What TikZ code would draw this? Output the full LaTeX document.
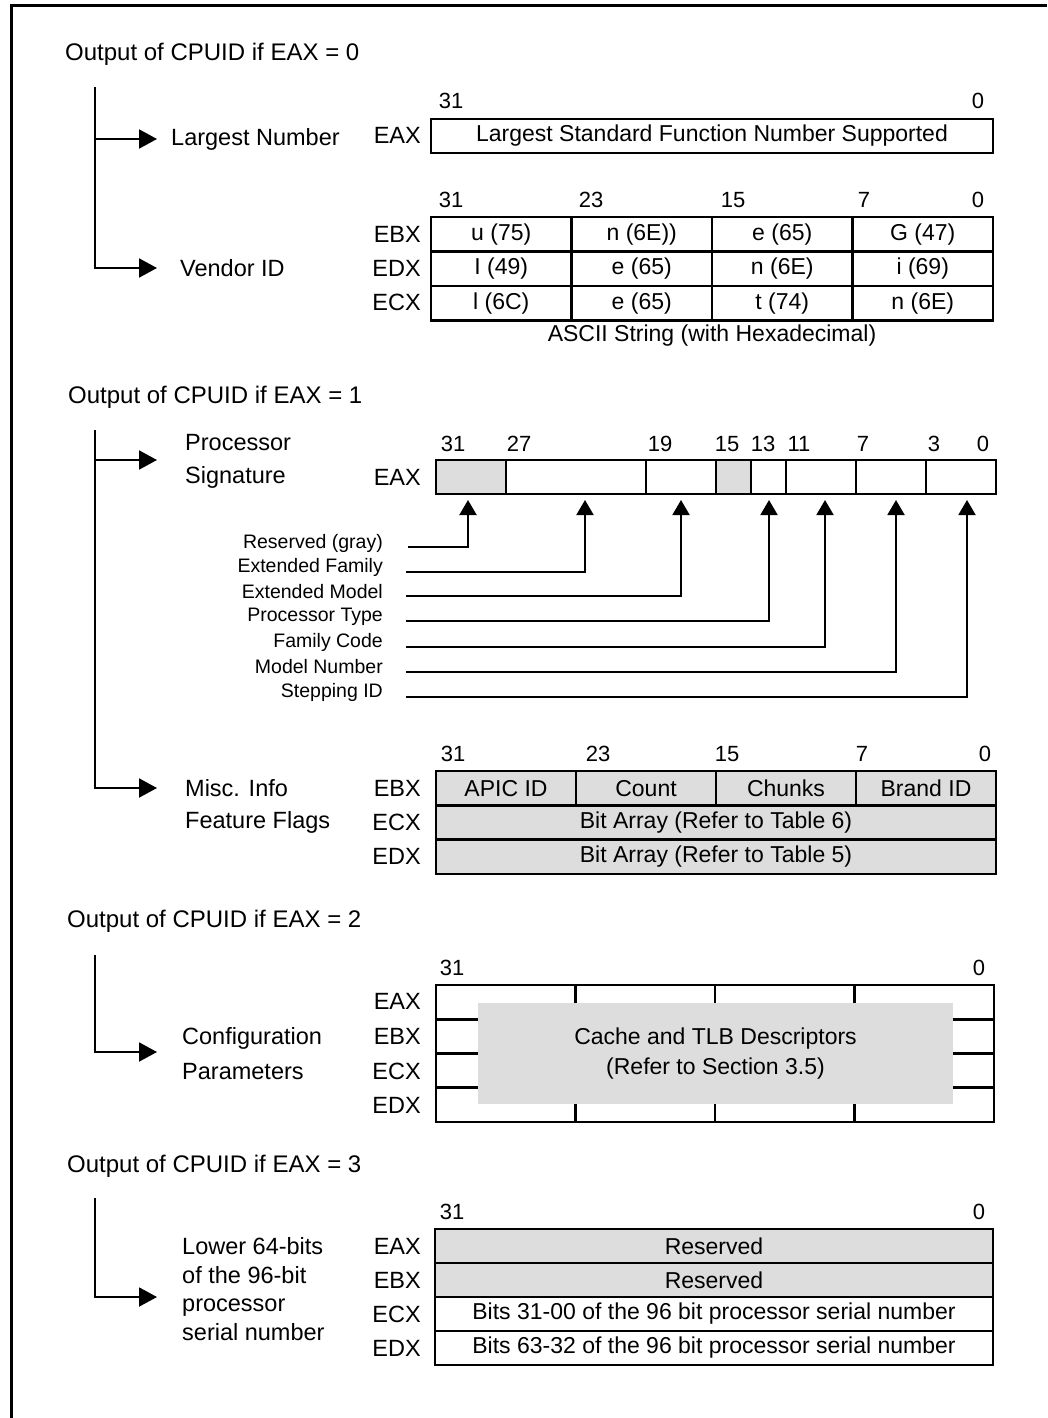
\documentclass[tikz,border=0pt]{standalone}
\usepackage{fontspec}
\setmainfont{Liberation Sans}
\usetikzlibrary{arrows.meta}
\definecolor{cgray}{RGB}{221,221,221}
\tikzset{
  hdr/.style={anchor=west, inner sep=0pt, font=\fontsize{24}{28}\selectfont},
  lbl/.style={anchor=west, inner sep=0pt, align=left, font=\fontsize{23.5}{33}\selectfont},
  reg/.style={anchor=east, inner sep=0pt, font=\fontsize{23.5}{27}\selectfont},
  bitno/.style={inner sep=0pt, font=\fontsize{22}{26}\selectfont},
  cell/.style={draw, line width=2.8pt, inner sep=0pt, minimum height=34.3pt, font=\fontsize{23}{27}\selectfont},
  gcell/.style={cell, fill=cgray},
  small/.style={anchor=east, inner sep=0pt, font=\fontsize{19.5}{22}\selectfont},
  tree/.style={line width=2pt, -{Triangle[length=18pt,width=19pt]}},
  uparr/.style={line width=2pt, -{Triangle[length=15pt,width=17pt]}},
}
\begin{document}
\begin{tikzpicture}[x=1pt,y=-1pt]
\useasboundingbox (0,0) rectangle (1047,1418);
% frame
\draw[line width=3pt] (1047,6) -- (11,6) -- (11,1418);

% ================= EAX = 0 =================
\node[hdr] (h0) at (65,54) {Output of CPUID if EAX = 0};
\coordinate (t0) at (95,87);
\node[lbl] (ln) at (171,139) {Largest Number};
\node[lbl] (vid) at (180,268) {Vendor ID};
\coordinate (a01) at (157,139);
\coordinate (a02) at (157,268);
\draw[tree] (t0) |- (a01);
\draw[tree] (t0) |- (a02);

\node[bitno] (b0a) at (451,101) {31};
\node[bitno] (b0b) at (978,101) {0};
\node[reg] (r0a) at (421,135) {EAX};
\node[cell, minimum width=562pt, minimum height=34pt] (eax0) at (712,136) {Largest Standard Function Number Supported};

\node[bitno] (b1a) at (451,200) {31};
\node[bitno] (b1b) at (591,200) {23};
\node[bitno] (b1c) at (733,200) {15};
\node[bitno] (b1d) at (864,200) {7};
\node[bitno] (b1e) at (978,200) {0};
\node[reg] (r0b) at (421,234) {EBX};
\node[reg] (r0c) at (421,268) {EDX};
\node[reg] (r0d) at (421,302) {ECX};
\foreach \c/\x in {1/501.25,2/641.75,3/782.25,4/922.75}{}
\node[cell, minimum width=140.5pt, minimum height=34.5pt] (v11) at (501.25,234.25) {u (75)};
\node[cell, minimum width=140.5pt, minimum height=34.5pt] (v12) at (641.75,234.25) {n (6E))};
\node[cell, minimum width=140.5pt, minimum height=34.5pt] (v13) at (782.25,234.25) {e (65)};
\node[cell, minimum width=140.5pt, minimum height=34.5pt] (v14) at (922.75,234.25) {G (47)};
\node[cell, minimum width=140.5pt, minimum height=34.5pt] (v21) at (501.25,268.75) {I (49)};
\node[cell, minimum width=140.5pt, minimum height=34.5pt] (v22) at (641.75,268.75) {e (65)};
\node[cell, minimum width=140.5pt, minimum height=34.5pt] (v23) at (782.25,268.75) {n (6E)};
\node[cell, minimum width=140.5pt, minimum height=34.5pt] (v24) at (922.75,268.75) {i (69)};
\node[cell, minimum width=140.5pt, minimum height=34.5pt] (v31) at (501.25,303.25) {l (6C)};
\node[cell, minimum width=140.5pt, minimum height=34.5pt] (v32) at (641.75,303.25) {e (65)};
\node[cell, minimum width=140.5pt, minimum height=34.5pt] (v33) at (782.25,303.25) {t (74)};
\node[cell, minimum width=140.5pt, minimum height=34.5pt] (v34) at (922.75,303.25) {n (6E)};
\node[bitno, font=\fontsize{23}{27}\selectfont] (ascii) at (712,336) {ASCII String (with Hexadecimal)};

% ================= EAX = 1 =================
\node[hdr] (h1) at (68,397) {Output of CPUID if EAX = 1};
\coordinate (t1) at (95,430);
\node[lbl] (psig) at (185,461) {Processor\\Signature};
\node[lbl] (misc) at (185,788) {Misc. Info};
\node[lbl] (ffl) at (185,822) {Feature Flags};
\coordinate (a11) at (157,460);
\coordinate (a12) at (157,788);
\draw[tree] (t1) |- (a11);
\draw[tree] (t1) |- (a12);

\node[reg] (r1a) at (421,477) {EAX};
\node[bitno] (s31) at (453,444) {31};
\node[bitno] (s27) at (519,444) {27};
\node[bitno] (s19) at (660,444) {19};
\node[bitno] (s15) at (727,444) {15};
\node[bitno] (s13) at (763,444) {13};
\node[bitno] (s11) at (799,444) {11};
\node[bitno] (s7) at (863,444) {7};
\node[bitno] (s3) at (934,444) {3};
\node[bitno] (s0) at (983,444) {0};
\node[gcell, minimum width=70pt, minimum height=34pt] (f1) at (471,477) {};
\node[cell, minimum width=140pt, minimum height=34pt] (f2) at (576,477) {};
\node[cell, minimum width=70pt, minimum height=34pt] (f3) at (681,477) {};
\node[gcell, minimum width=35pt, minimum height=34pt] (f4) at (733.5,477) {};
\node[cell, minimum width=35pt, minimum height=34pt] (f5) at (768.5,477) {};
\node[cell, minimum width=70pt, minimum height=34pt] (f6) at (821,477) {};
\node[cell, minimum width=70pt, minimum height=34pt] (f7) at (891,477) {};
\node[cell, minimum width=70pt, minimum height=34pt] (f8) at (961,477) {};

\node[small] (lr) at (383,543) {Reserved (gray)};
\node[small] (lef) at (383,567) {Extended Family};
\node[small] (lem) at (383,592) {Extended Model};
\node[small] (lpt) at (383,617) {Processor Type};
\node[small] (lfc) at (383,642) {Family Code};
\node[small] (lmn) at (383,667) {Model Number};
\node[small] (lsi) at (383,692) {Stepping ID};
\coordinate (p1) at (468,500);
\coordinate (p2) at (585,500);
\coordinate (p3) at (681,500);
\coordinate (p4) at (769,500);
\coordinate (p5) at (825,500);
\coordinate (p6) at (896,500);
\coordinate (p7) at (967,500);
\draw[uparr] ([xshift=25pt,yshift=-4pt]lr.east) -| (p1);
\draw[uparr] ([xshift=23pt,yshift=-5pt]lef.east) -| (p2);
\draw[uparr] ([xshift=23pt,yshift=-4pt]lem.east) -| (p3);
\draw[uparr] ([xshift=23pt,yshift=-4pt]lpt.east) -| (p4);
\draw[uparr] ([xshift=23pt,yshift=-5pt]lfc.east) -| (p5);
\draw[uparr] ([xshift=23pt,yshift=-5pt]lmn.east) -| (p6);
\draw[uparr] ([xshift=23pt,yshift=-5pt]lsi.east) -| (p7);

\node[bitno] (m31) at (453,754) {31};
\node[bitno] (m23) at (598,754) {23};
\node[bitno] (m15) at (727,754) {15};
\node[bitno] (m7) at (862,754) {7};
\node[bitno] (m0) at (985,754) {0};
\node[reg] (r1b) at (421,788) {EBX};
\node[reg] (r1c) at (421,822) {ECX};
\node[reg] (r1d) at (421,856) {EDX};
\node[gcell, minimum width=140pt] (m11) at (506,788.15) {APIC ID};
\node[gcell, minimum width=140pt] (m12) at (646,788.15) {Count};
\node[gcell, minimum width=140pt] (m13) at (786,788.15) {Chunks};
\node[gcell, minimum width=140pt] (m14) at (926,788.15) {Brand ID};
\node[gcell, minimum width=560pt] (m2) at (716,822.45) {Bit Array (Refer to Table 6)};
\node[gcell, minimum width=560pt] (m3) at (716,856.75) {Bit Array (Refer to Table 5)};

% ================= EAX = 2 =================
\node[hdr] (h2) at (67,921) {Output of CPUID if EAX = 2};
\coordinate (t2) at (95,955);
\node[lbl, font=\fontsize{23.5}{35}\selectfont] (cfg) at (182,1054) {Configuration\\Parameters};
\coordinate (a21) at (157,1052);
\draw[tree] (t2) |- (a21);

\node[bitno] (c31) at (452,968) {31};
\node[bitno] (c0) at (979,968) {0};
\node[reg] (r2a) at (421,1001) {EAX};
\node[reg] (r2b) at (421,1036) {EBX};
\node[reg] (r2c) at (421,1071) {ECX};
\node[reg] (r2d) at (421,1105) {EDX};
\foreach \r/\y in {1/1002.1,2/1036.4,3/1070.6,4/1104.9}{
  \foreach \c/\x in {1/505.75,2/645.25,3/784.75,4/924.25}{
    \node[cell, minimum width=139.5pt, minimum height=34.25pt] (g\r\c) at (\x,\y) {};
  }
}
\node[fill=cgray, inner sep=0pt, minimum width=475pt, minimum height=101pt, align=center,
      font=\fontsize{23}{30}\selectfont] (cache) at (715.5,1053.5) {Cache and TLB Descriptors\\(Refer to Section 3.5)};

% ================= EAX = 3 =================
\node[hdr] (h3) at (67,1166) {Output of CPUID if EAX = 3};
\coordinate (t3) at (95,1198);
\node[lbl, font=\fontsize{23.5}{28.7}\selectfont] (ser) at (182,1289) {Lower 64-bits\\of the 96-bit\\processor\\serial number};
\coordinate (a31) at (157,1297);
\draw[tree] (t3) |- (a31);

\node[bitno] (d31) at (452,1212) {31};
\node[bitno] (d0) at (979,1212) {0};
\node[reg] (r3a) at (421,1246) {EAX};
\node[reg] (r3b) at (421,1280) {EBX};
\node[reg] (r3c) at (421,1314) {ECX};
\node[reg] (r3d) at (421,1348) {EDX};
\node[gcell, minimum width=558pt, minimum height=34pt] (n1) at (714,1246) {Reserved};
\node[gcell, minimum width=558pt, minimum height=34pt] (n2) at (714,1280) {Reserved};
\node[cell, minimum width=558pt, minimum height=34pt] (n3) at (714,1314) {Bits 31-00 of the 96 bit processor serial number};
\node[cell, minimum width=558pt, minimum height=34pt] (n4) at (714,1348) {Bits 63-32 of the 96 bit processor serial number};
\end{tikzpicture}
\end{document}
